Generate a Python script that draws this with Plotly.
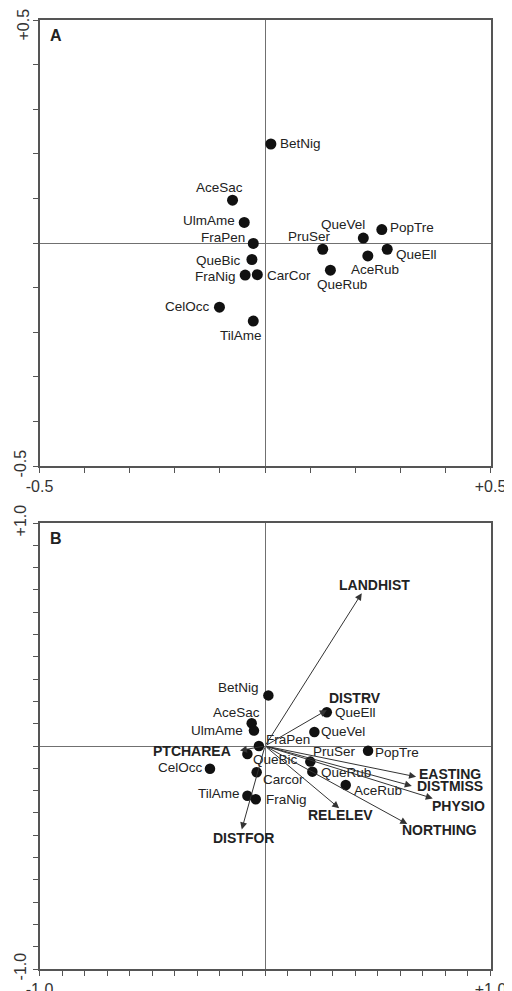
import plotly.graph_objects as go

# ---------- Panel A data (species scores) ----------
a_species = ["BetNig", "AceSac", "UlmAme", "FraPen", "QueBic", "FraNig", "CarCor",
             "CelOcc", "TilAme", "PruSer", "QueRub", "QueVel", "AceRub", "PopTre", "QueEll"]
a_x = [0.013, -0.072, -0.046, -0.026, -0.029, -0.044, -0.017,
       -0.101, -0.026, 0.128, 0.145, 0.218, 0.228, 0.259, 0.271]
a_y = [0.222, 0.096, 0.046, -0.001, -0.037, -0.072, -0.071,
       -0.144, -0.175, -0.014, -0.061, 0.011, -0.029, 0.030, -0.014]

# ---------- Panel B data (species scores) ----------
b_species = ["BetNig", "AceSac", "UlmAme", "FraPen", "QueBic", "CelOcc", "Carcor",
             "TilAme", "FraNig", "QueEll", "QueVel", "PopTre", "PruSer", "QueRub", "AceRub"]
b_x = [0.015, -0.059, -0.049, -0.027, -0.078, -0.244, -0.037,
       -0.078, -0.041, 0.274, 0.219, 0.457, 0.201, 0.210, 0.358]
b_y = [0.227, 0.102, 0.069, 0.000, -0.036, -0.102, -0.118,
       -0.223, -0.239, 0.151, 0.063, -0.021, -0.070, -0.115, -0.175]

# ---------- Panel B environmental vectors ----------
env_names = ["LANDHIST", "DISTRV", "PTCHAREA", "DISTFOR", "EASTING",
             "DISTMISS", "PHYSIO", "RELELEV", "NORTHING"]
env_x = [0.429, 0.274, -0.111, -0.103, 0.670, 0.651, 0.744, 0.329, 0.631]
env_y = [0.685, 0.161, -0.020, -0.374, -0.138, -0.179, -0.235, -0.279, -0.350]

# axis ticks
a_ticks = [round(-0.5 + 0.1 * i, 1) for i in range(11)]
a_ticktext = ["-0.5"] + [""] * 9 + ["+0.5"]
a_yticktext = ["-0.5"] + [""] * 10          # top "+0.5" drawn as a separate label
a_ytop_label = "+0.5"
b_ticks = [round(-1.0 + 0.1 * i, 1) for i in range(21)]
b_ticktext = ["-1.0"] + [""] * 19 + ["+1.0"]

# ---------- styling: label offsets in pixels (dx right, dy down) ----------
FONT = "Liberation Sans, Arial, sans-serif"
a_label_off = [(30, 0), (-13, -13), (-35, -2), (-30, -6), (-33, 1), (-30, 1), (32, 1),
               (-32, -1), (-12, 14), (-13, -13), (12, 14), (-20, -14), (7, 14), (30, -2), (29, 5)]
b_label_off = [(-30, -8), (-15, -11), (-37, 0), (29, -7), (28, 5), (-29, -1), (27, 7),
               (-28, -2), (31, 0), (29, 0), (29, 0), (29, 2), (24, -10), (34, 1), (32, 5)]
env_shift = [(13, -8), (28, -12), (-48, 1), (2, 9), (34, -3), (38, 0), (26, 8), (1, 7), (32, 6)]

W, H = 512, 991
OFF = 8  # default page body margin


def px_x(p):
    return (p - OFF) / W


def px_y(p):
    return 1 - (p - OFF) / H


xdom = [px_x(39.5), px_x(490.5)]
ydomA = [px_y(466), px_y(20)]
ydomB = [px_y(969), px_y(523)]

fig = go.Figure()

fig.add_trace(go.Scatter(
    x=a_x, y=a_y, mode="markers", text=a_species,
    marker=dict(size=11, color="#111111"),
    xaxis="x", yaxis="y", hoverinfo="text", cliponaxis=False))

fig.add_trace(go.Scatter(
    x=b_x, y=b_y, mode="markers", text=b_species,
    marker=dict(size=10.5, color="#111111"),
    xaxis="x2", yaxis="y2", hoverinfo="text", cliponaxis=False))

annotations = []
lab_font = dict(family=FONT, size=13.5, color="#222222")
for name, px, py, (dx, dy) in zip(a_species, a_x, a_y, a_label_off):
    annotations.append(dict(x=px, y=py, xref="x", yref="y", text=name, showarrow=False,
                            xanchor="center", yanchor="middle", xshift=dx, yshift=-dy,
                            font=lab_font))
for name, px, py, (dx, dy) in zip(b_species, b_x, b_y, b_label_off):
    annotations.append(dict(x=px, y=py, xref="x2", yref="y2", text=name, showarrow=False,
                            xanchor="center", yanchor="middle", xshift=dx, yshift=-dy,
                            font=lab_font))

for name, ex, ey, (sx, sy) in zip(env_names, env_x, env_y, env_shift):
    annotations.append(dict(
        x=ex, y=ey, ax=0, ay=0, xref="x2", yref="y2", axref="x2", ayref="y2",
        text="", showarrow=True, arrowhead=2, arrowsize=1.4, arrowwidth=1,
        arrowcolor="#333333", standoff=0, startstandoff=0))
    annotations.append(dict(
        x=ex, y=ey, xref="x2", yref="y2", text="<b>" + name + "</b>",
        showarrow=False, xshift=sx, yshift=-sy, xanchor="center", yanchor="middle",
        font=dict(family=FONT, size=14, color="#222222")))

annotations.append(dict(x=0, y=1, xref="x domain", yref="y domain", text="<b>A</b>",
                        showarrow=False, xanchor="left", yanchor="top", xshift=8, yshift=-5,
                        font=dict(family=FONT, size=16, color="#222222")))
annotations.append(dict(x=0, y=1, xref="x2 domain", yref="y2 domain", text="<b>B</b>",
                        showarrow=False, xanchor="left", yanchor="top", xshift=8, yshift=-5,
                        font=dict(family=FONT, size=16, color="#222222")))
annotations.append(dict(x=0, y=0.5, xref="x domain", yref="y", text=a_ytop_label,
                        showarrow=False, textangle=-90, xanchor="center", yanchor="middle",
                        xshift=-17, yshift=-5,
                        font=dict(family=FONT, size=16, color="#333333")))

axis_common = dict(showgrid=False, zeroline=True, zerolinecolor="#707070", zerolinewidth=1,
                   showline=True, linecolor="#555555", linewidth=1.5, mirror=True,
                   ticks="outside", ticklen=5, tickcolor="#555555", tickwidth=1,
                   tickfont=dict(family=FONT, size=16, color="#333333"),
                   ticklabeloverflow="allow",
                   fixedrange=True, automargin=False)

fig.update_layout(
    width=W, height=H, margin=dict(l=0, r=0, t=0, b=0, autoexpand=False),
    paper_bgcolor="white", plot_bgcolor="white", showlegend=False,
    xaxis=dict(domain=xdom, range=[-0.5, 0.5], tickvals=a_ticks, ticktext=a_ticktext,
               anchor="y", tickangle=0, **axis_common),
    yaxis=dict(domain=ydomA, range=[-0.5, 0.5], tickvals=a_ticks, ticktext=a_yticktext,
               anchor="x", tickangle=-90, **axis_common),
    xaxis2=dict(domain=xdom, range=[-1.0, 1.0], tickvals=b_ticks, ticktext=b_ticktext,
                anchor="y2", tickangle=0, **axis_common),
    yaxis2=dict(domain=ydomB, range=[-1.0, 1.0], tickvals=b_ticks, ticktext=b_ticktext,
                anchor="x2", tickangle=-90, **axis_common),
    annotations=annotations,
)

fig.write_html("out.html")
